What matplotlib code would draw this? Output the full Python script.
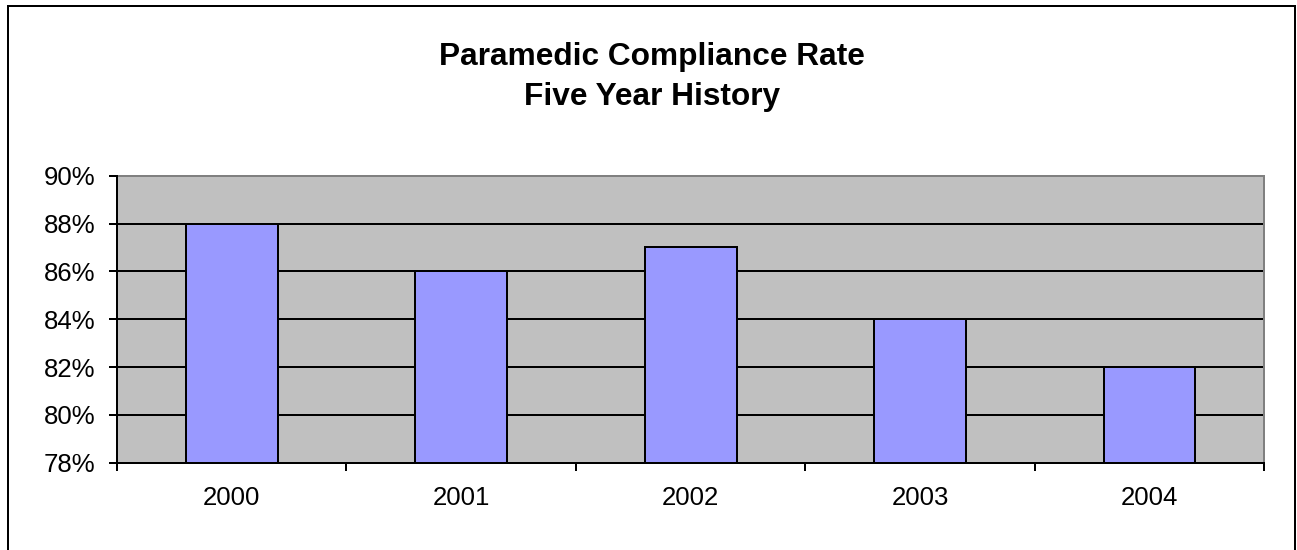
import matplotlib
matplotlib.use("Agg")
import matplotlib.pyplot as plt
from matplotlib.patches import Rectangle
from matplotlib.ticker import FixedLocator, FuncFormatter

years = ["2000", "2001", "2002", "2003", "2004"]
compliance = [88, 86, 87, 84, 82]
y_ticks = [78, 80, 82, 84, 86, 88, 90]
title_lines = ["Paramedic Compliance Rate", "Five Year History"]

W, H = 1297, 550
plt.rcParams['font.family'] = ['Liberation Sans', 'DejaVu Sans']
fig = plt.figure(figsize=(W / 100, H / 100), dpi=100)
fig.patch.set_facecolor('white')

px = 0.72  # points per pixel at dpi 100

left, right, top, bottom = 117, 1264.3, 175.7, 462.7
ax = fig.add_axes([left / W, 1 - bottom / H, (right - left) / W, (bottom - top) / H])
ax.set_facecolor('#C0C0C0')

x = list(range(len(years)))
ax.bar(x, compliance, width=0.4, color='#9999FF', edgecolor='black',
       linewidth=2 * px, zorder=3)

ax.set_xlim(-0.5, len(years) - 0.5)
ax.set_ylim(y_ticks[0], y_ticks[-1])
ax.set_yticks(y_ticks)
ax.yaxis.set_major_formatter(FuncFormatter(lambda v, p: f"{int(round(v))}%"))
ax.set_xticks(x)
ax.set_xticklabels(years)
ax.xaxis.set_minor_locator(FixedLocator([i - 0.5 for i in range(len(years) + 1)]))

ax.tick_params(axis='x', which='major', length=0, pad=17, labelsize=18.5, colors='black')
ax.tick_params(axis='x', which='minor', length=8 * px, width=2 * px, direction='out', color='black')
ax.tick_params(axis='y', which='major', length=8 * px, width=2 * px, direction='out',
               pad=10, labelsize=18.5, colors='black')

ax.set_axisbelow(True)
ax.yaxis.grid(True, color='black', linewidth=2 * px, zorder=1)
ax.xaxis.grid(False)

for s in ['left', 'bottom']:
    ax.spines[s].set_color('black')
    ax.spines[s].set_linewidth(2 * px)
    ax.spines[s].set_zorder(4)
for s in ['top', 'right']:
    ax.spines[s].set_color('#808080')
    ax.spines[s].set_linewidth(2 * px)

# title
cx = 652 / W
fig.text(cx, 1 - 65 / H, title_lines[0], ha='center', va='baseline',
         fontsize=22.8, fontweight='bold')
fig.text(cx, 1 - 105 / H, title_lines[1], ha='center', va='baseline',
         fontsize=22.8, fontweight='bold')

# chart border
bx0, bx1, by0 = 8, 1294.5, 5.5
fig.add_artist(Rectangle((bx0 / W, -0.1), (bx1 - bx0) / W, 0.1 + 1 - by0 / H,
                         transform=fig.transFigure, fill=False,
                         edgecolor='black', linewidth=2 * px))

fig.savefig('out.png', dpi=100, facecolor='white')
